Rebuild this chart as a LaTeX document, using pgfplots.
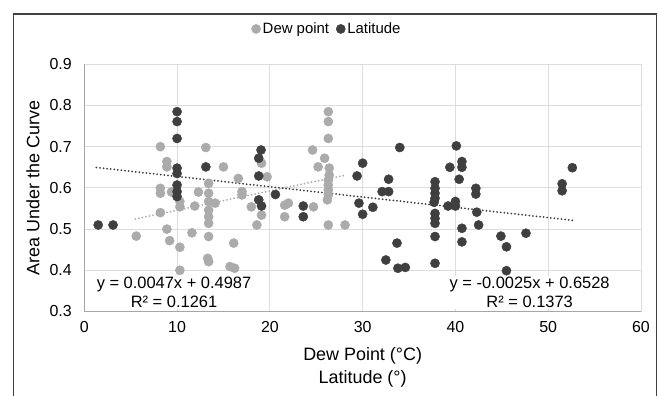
\documentclass[border=0pt]{standalone}
\usepackage{fontspec}
\setmainfont{Liberation Sans}
\usepackage{pgfplots}
\pgfplotsset{compat=1.18}
\usepackage{pgfplotstable}
\definecolor{dewc}{HTML}{ABABAB}
\definecolor{latc}{HTML}{3F3F3F}
\definecolor{gridc}{HTML}{DDDDDD}
\definecolor{axc}{HTML}{A6A6A6}

\pgfplotstableread{
x y
8.2 0.700
13.1 0.698
8.9 0.664
8.9 0.651
15.0 0.651
8.2 0.599
8.2 0.587
9.4 0.590
12.3 0.590
10.3 0.567
10.3 0.554
11.9 0.556
13.4 0.611
13.4 0.587
13.4 0.567
13.4 0.546
14.1 0.563
8.2 0.540
13.4 0.530
13.4 0.514
8.9 0.500
11.6 0.491
5.6 0.483
13.4 0.482
9.2 0.472
10.3 0.456
13.3 0.429
13.4 0.421
10.3 0.400
26.3 0.785
26.3 0.761
26.3 0.720
24.6 0.692
25.9 0.672
25.2 0.651
26.4 0.648
26.4 0.631
26.3 0.619
26.3 0.607
26.3 0.595
26.3 0.583
26.2 0.571
19.1 0.660
19.7 0.627
16.6 0.623
17.0 0.591
17.0 0.583
18.0 0.554
19.1 0.534
18.6 0.510
21.6 0.558
22.0 0.563
21.6 0.530
24.7 0.554
26.3 0.510
28.1 0.510
16.1 0.466
15.7 0.409
16.2 0.405
}\dewtable

\pgfplotstableread{
x y
10.0 0.785
10.0 0.761
10.0 0.720
13.1 0.651
10.0 0.648
10.0 0.635
10.0 0.607
10.0 0.591
10.0 0.579
1.5 0.510
3.1 0.510
19.05 0.692
18.8 0.672
18.8 0.629
18.8 0.571
19.1 0.556
20.6 0.584
23.6 0.556
23.6 0.530
34.0 0.698
30.0 0.660
29.4 0.629
32.8 0.621
32.1 0.591
32.8 0.591
29.6 0.563
31.1 0.553
30.0 0.536
33.7 0.466
32.5 0.425
33.8 0.405
34.6 0.407
37.8 0.615
37.8 0.599
37.8 0.587
37.8 0.575
37.7 0.565
37.8 0.538
37.8 0.526
37.8 0.514
37.8 0.482
37.8 0.417
40.1 0.702
39.4 0.650
40.7 0.664
40.7 0.650
40.4 0.621
39.2 0.556
40.0 0.556
40.0 0.567
40.7 0.502
40.7 0.469
42.2 0.599
42.2 0.585
42.3 0.541
42.5 0.510
44.9 0.483
45.5 0.457
45.5 0.399
47.6 0.490
51.5 0.610
51.5 0.593
52.6 0.649
}\lattable

\begin{document}
\begin{tikzpicture}
\begin{axis}[
  at={(0,0)}, anchor=south west,
  scale only axis,
  width=556.7bp, height=247.2bp,
  xmin=0, xmax=60, ymin=0.3, ymax=0.9,
  xtick={0,10,...,60},
  ytick={0.3,0.4,...,0.9},
  yticklabel style={/pgf/number format/fixed,/pgf/number format/fixed zerofill,/pgf/number format/precision=1},
  /pgf/number format/assume math mode=true,
  tick label style={font=\fontsize{16}{18}\selectfont},
  major tick length=0pt,
  xtick style={draw=none}, ytick style={draw=none},
  grid=major,
  major grid style={gridc, line width=1bp},
  axis x line*=bottom, axis y line*=left,
  axis line style={axc, line width=1.2bp, -},
  xticklabel style={yshift=-6.5bp},
  yticklabel style={xshift=-9bp},
  xlabel={Dew Point (°C)\\Latitude (°)},
  ylabel={Area Under the Curve},
  every axis x label/.style={at={(axis description cs:0.5,-0.226)}, anchor=center, align=center, font=\fontsize{18}{23}\selectfont},
  every axis y label/.style={at={(axis description cs:-0.092,0.5)}, anchor=center, rotate=90, font=\fontsize{18}{20}\selectfont},
  legend style={at={(axis description cs:0.436,1.143)}, anchor=center, draw=none, fill=none,
    legend columns=2, font=\fontsize{15}{17}\selectfont,
    /tikz/every even column/.append style={column sep=5bp}},
  legend cell align=left,
  clip=false,
]
\addplot[only marks, mark=*, mark size=4.6bp, dewc, mark options={draw=dewc, fill=dewc}] table[x=x,y=y] {\dewtable};
\addlegendentry{Dew point}
\addplot[only marks, mark=*, mark size=4.6bp, latc, mark options={draw=latc, fill=latc}] table[x=x,y=y] {\lattable};
\addlegendentry{Latitude}
\addplot[forget plot, dewc, line width=2bp, line cap=round, dash pattern=on 0pt off 3.6bp] coordinates {(5.5,0.5246) (28.0,0.6303)};
\addplot[forget plot, latc, line width=2bp, line cap=round, dash pattern=on 0pt off 3.6bp] coordinates {(1.3,0.6496) (52.7,0.5211)};
\node[align=center, font=\fontsize{16.5}{19.5}\selectfont, fill=white, inner sep=1bp] at (axis cs:9.67,0.346) {y = 0.0047x + 0.4987\\R² = 0.1261};
\node[align=center, font=\fontsize{16.5}{19.5}\selectfont, fill=white, inner sep=1bp] at (axis cs:48.0,0.346) {y = -0.0025x + 0.6528\\R² = 0.1373};
\end{axis}
\draw[black!75, line width=1.2bp] (-71bp,-100bp) -- (-71bp,297.5bp) -- (572.5bp,297.5bp) -- (572.5bp,-100bp);
\pgfresetboundingbox
\useasboundingbox (-84.3bp,-84.5bp) rectangle (575.7bp,311.5bp);
\end{tikzpicture}
\end{document}
